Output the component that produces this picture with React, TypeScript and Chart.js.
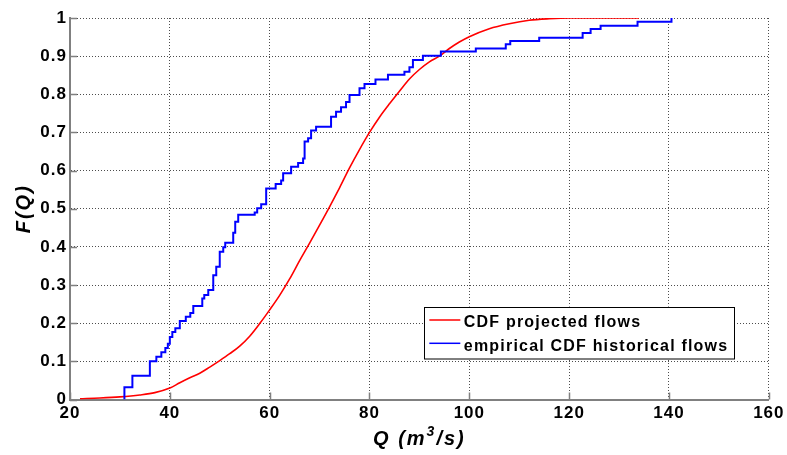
import React, { useEffect, useRef } from 'react';
import { Chart, registerables } from 'chart.js';
Chart.register(...registerables);

// Projected flows CDF (smooth)
const projectedQ = [22, 26, 30, 34, 37, 40, 42, 44, 46, 48, 50, 52, 54, 56, 58, 60, 62, 64, 66, 68, 70, 72, 74, 76, 78, 80, 82, 84, 86, 88, 90, 92, 94, 96, 98, 100, 104, 108, 112, 116, 120, 134];
const projectedF = [0.002, 0.004, 0.007, 0.012, 0.018, 0.03, 0.044, 0.057, 0.069, 0.085, 0.102, 0.12, 0.14, 0.166, 0.199, 0.235, 0.273, 0.316, 0.364, 0.41, 0.457, 0.505, 0.555, 0.607, 0.655, 0.70, 0.74, 0.775, 0.808, 0.84, 0.865, 0.885, 0.90, 0.92, 0.937, 0.951, 0.972, 0.985, 0.994, 0.998, 1.0, 1.0];

// Empirical CDF historical flows (jump location, new level)
const historicalQ = [30.9, 30.9, 32.5, 36.0, 37.3, 38.3, 39.1, 39.6, 40.0, 40.5, 41.1, 42.0, 43.2, 44.1, 44.7, 46.5, 46.9, 47.7, 48.7, 49.3, 50.0, 50.7, 51.1, 52.7, 53.1, 53.7, 57.0, 57.5, 58.3, 59.3, 61.2, 62.3, 62.7, 64.3, 65.7, 66.7, 67.0, 67.7, 68.3, 69.3, 72.3, 73.3, 74.3, 75.3, 76.0, 78.0, 79.0, 81.2, 83.7, 87.0, 88.0, 88.7, 90.7, 94.3, 101.3, 107.3, 108.2, 114.0, 122.7, 124.3, 126.3, 133.7, 140.5];
const historicalF = [0, 0.032, 0.062, 0.100, 0.112, 0.124, 0.135, 0.146, 0.164, 0.177, 0.187, 0.206, 0.217, 0.227, 0.245, 0.265, 0.274, 0.287, 0.326, 0.348, 0.387, 0.399, 0.411, 0.437, 0.466, 0.484, 0.490, 0.501, 0.512, 0.553, 0.565, 0.574, 0.593, 0.610, 0.620, 0.632, 0.676, 0.685, 0.705, 0.715, 0.741, 0.754, 0.766, 0.780, 0.798, 0.816, 0.827, 0.839, 0.851, 0.859, 0.871, 0.890, 0.901, 0.912, 0.920, 0.931, 0.940, 0.948, 0.961, 0.971, 0.980, 0.990, 1.000];

const xTicks = [20, 40, 60, 80, 100, 120, 140, 160];
const yTicks = [0, 0.1, 0.2, 0.3, 0.4, 0.5, 0.6, 0.7, 0.8, 0.9, 1];

const seriesLabels = ['CDF projected flows', 'empirical CDF historical flows'];
// x title parts: base text, superscript, rest
const xTitleParts = ['Q (m', '3', '/s)'];
const yTitle = 'F(Q)';

const FONT = "'Liberation Sans', Arial, Helvetica, sans-serif";

const spacingPlugin = {
  id: 'spacingPlugin',
  afterLayout(chart: any) {
    ['x', 'y'].forEach((id) => {
      const s: any = chart.scales[id];
      if (!s || s.__patched) return;
      const ctx = chart.ctx;
      const t = s.drawTitle;
      const l = s.drawLabels;
      s.drawTitle = function (...a: any[]) {
        ctx.save();
        (ctx as any).letterSpacing = '2px';
        t.apply(this, a);
        ctx.restore();
      };
      s.drawLabels = function (...a: any[]) {
        ctx.save();
        (ctx as any).letterSpacing = '1px';
        l.apply(this, a);
        ctx.restore();
      };
      s.__patched = true;
    });
  },
};

const innerTicksPlugin = {
  id: 'innerTicks',
  beforeDatasetsDraw(chart: any) {
    const { ctx, chartArea: a, scales } = chart;
    const x = scales.x;
    const y = scales.y;
    ctx.save();
    ctx.strokeStyle = '#808080';
    ctx.lineWidth = 1.5;
    ctx.beginPath();
    x.ticks.forEach((t: any) => {
      const px = Math.round(x.getPixelForValue(t.value)) + 0.5;
      ctx.moveTo(px, a.bottom);
      ctx.lineTo(px, a.bottom - 7);
    });
    y.ticks.forEach((t: any) => {
      const py = Math.round(y.getPixelForValue(t.value)) + 0.5;
      ctx.moveTo(a.left, py);
      ctx.lineTo(a.left + 7, py);
    });
    ctx.stroke();
    ctx.restore();
  },
};

const xTitlePlugin = {
  id: 'xTitleSup',
  afterDraw(chart: any) {
    const { ctx, chartArea: a } = chart;
    const big = `italic bold 20px ${FONT}`;
    const small = `italic bold 14px ${FONT}`;
    ctx.save();
    (ctx as any).letterSpacing = '2px';
    ctx.fillStyle = '#000';
    ctx.textBaseline = 'alphabetic';
    ctx.textAlign = 'left';
    ctx.font = big;
    const w0 = ctx.measureText(xTitleParts[0]).width;
    const w2 = ctx.measureText(xTitleParts[2]).width;
    ctx.font = small;
    const w1 = ctx.measureText(xTitleParts[1]).width;
    const total = w0 + w1 + w2;
    let x = (a.left + a.right) / 2 - total / 2;
    const base = a.bottom + 45;
    ctx.font = big;
    ctx.fillText(xTitleParts[0], x, base);
    x += w0;
    ctx.font = small;
    ctx.fillText(xTitleParts[1], x, base - 9);
    x += w1;
    ctx.font = big;
    ctx.fillText(xTitleParts[2], x, base);
    ctx.restore();
  },
};

const boxLegendPlugin = {
  id: 'boxLegend',
  afterDraw(chart: any) {
    const { ctx, chartArea: a } = chart;
    const left = a.right - 345;
    const top = a.bottom - 93;
    const w = 310;
    const h = 51.5;
    ctx.save();
    ctx.fillStyle = '#ffffff';
    ctx.fillRect(left, top, w, h);
    ctx.strokeStyle = '#000000';
    ctx.lineWidth = 1;
    ctx.strokeRect(Math.round(left) + 0.5, Math.round(top) + 0.5, w, h);
    ctx.font = `bold 16px ${FONT}`;
    (ctx as any).letterSpacing = '1.2px';
    ctx.textBaseline = 'alphabetic';
    ctx.textAlign = 'left';
    chart.data.datasets.forEach((ds: any, i: number) => {
      const ly = top + 13.5 + i * 23.3;
      ctx.strokeStyle = ds.borderColor;
      ctx.lineWidth = 1.5;
      ctx.beginPath();
      ctx.moveTo(left + 5.5, ly);
      ctx.lineTo(left + 36.5, ly);
      ctx.stroke();
      ctx.fillStyle = '#000000';
      ctx.fillText(ds.label, left + 40, ly + 7.2);
    });
    ctx.restore();
  },
};

export default function App() {
  const ref = useRef<HTMLCanvasElement>(null);
  useEffect(() => {
    document.body.style.margin = '0';
    Chart.defaults.font.family = FONT;
    const canvas = ref.current!;
    const chart = new Chart(canvas, {
      type: 'line',
      data: {
        datasets: [
          {
            label: seriesLabels[0],
            data: projectedQ.map((q, i) => ({ x: q, y: projectedF[i] })),
            borderColor: '#ff0000',
            backgroundColor: '#ff0000',
            borderWidth: 1.6,
            pointRadius: 0,
            cubicInterpolationMode: 'monotone',
            fill: false,
            order: 1,
          },
          {
            label: seriesLabels[1],
            data: historicalQ.map((q, i) => ({ x: q, y: historicalF[i] })),
            borderColor: '#0000ff',
            backgroundColor: '#0000ff',
            borderWidth: 2,
            pointRadius: 0,
            stepped: 'before',
            fill: false,
            order: 0,
          },
        ],
      },
      options: {
        responsive: false,
        animation: false,
        devicePixelRatio: 1,
        layout: { padding: { top: 18, right: 15.5, left: 0, bottom: 0 } },
        plugins: {
          legend: { display: false },
          tooltip: { enabled: false },
        },
        scales: {
          x: {
            type: 'linear',
            min: 20,
            max: 160,
            afterFit: (s: any) => {
              s.height = 55.5;
            },
            afterBuildTicks: (s: any) => {
              s.ticks = xTicks.map((v) => ({ value: v }));
            },
            ticks: {
              color: '#000',
              font: { size: 17, weight: 'bold', family: FONT },
              padding: 4,
              maxRotation: 0,
              autoSkip: false,
              callback: (v: any) => String(v),
            },
            grid: {
              color: '#4d4d4d',
              lineWidth: 1,
              drawTicks: false,
            },
            border: { display: true, color: '#808080', width: 2, dash: [1, 2] },
            title: { display: false },
          },
          y: {
            type: 'linear',
            min: 0,
            max: 1,
            afterFit: (s: any) => {
              s.width = 70;
            },
            afterBuildTicks: (s: any) => {
              s.ticks = yTicks.map((v) => ({ value: v }));
            },
            ticks: {
              color: '#000',
              font: { size: 17, weight: 'bold', family: FONT },
              padding: 3,
              autoSkip: false,
              callback: (v: any) => String(Math.round(Number(v) * 10) / 10),
            },
            grid: {
              color: '#4d4d4d',
              lineWidth: 1,
              drawTicks: false,
            },
            border: { display: true, color: '#808080', width: 2, dash: [1, 2] },
            title: {
              display: true,
              text: yTitle,
              color: '#000',
              font: { size: 20, weight: 'bold', style: 'italic', family: FONT },
              padding: { top: 12, bottom: 0 },
            },
          },
        },
      } as any,
      plugins: [spacingPlugin, innerTicksPlugin, xTitlePlugin, boxLegendPlugin],
    });
    return () => chart.destroy();
  }, []);
  return (
    <div style={{ position: 'absolute', left: 0, top: 0, width: 787, height: 455, background: '#fff' }}>
      <canvas ref={ref} width={787} height={455} style={{ display: 'block', width: 787, height: 455 }} />
    </div>
  );
}
